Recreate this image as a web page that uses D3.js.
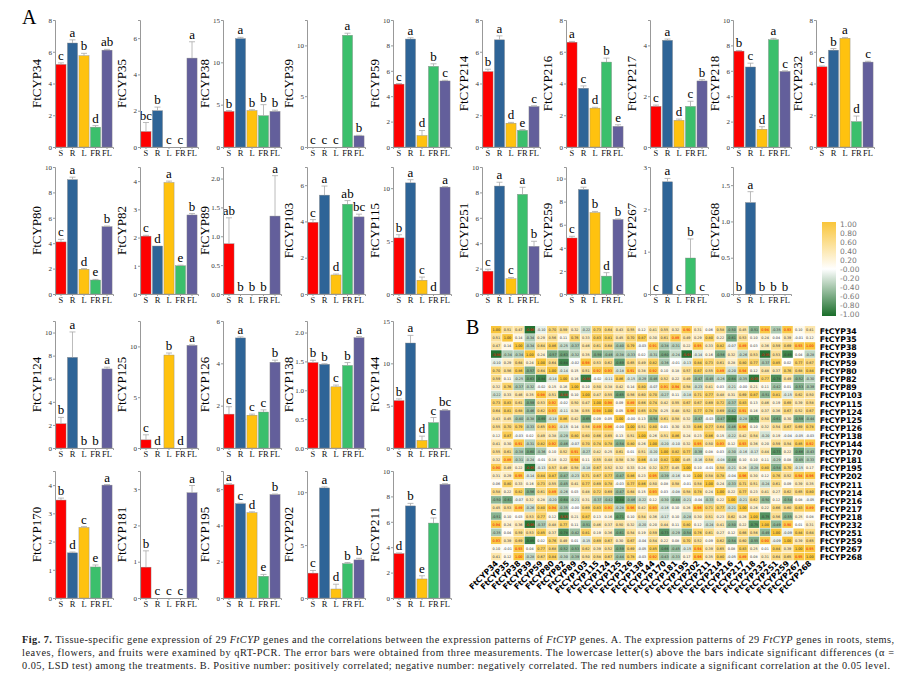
<!DOCTYPE html>
<html><head><meta charset="utf-8">
<script src="https://cdn.jsdelivr.net/npm/d3@7"></script>
<style>
body{margin:0;background:#fff;}
svg text{font-family:"Liberation Serif",serif;}
.cap{font-family:"Liberation Serif",serif;font-size:10.3px;fill:#222;}
</style></head><body>
<svg id="fig" width="904" height="696"></svg>
<script>
// tissues and bar colours
const tissues = ['S', 'R', 'L', 'FR', 'FL'];
const tissueColors = ['#fe0000', '#2e6497', '#ffc20f', '#3bbf6c', '#635f9b'];

// gene order of the heatmap
const genes = ['FtCYP34','FtCYP35','FtCYP38','FtCYP39','FtCYP59','FtCYP80','FtCYP82','FtCYP89','FtCYP103',
  'FtCYP115','FtCYP124','FtCYP125','FtCYP126','FtCYP138','FtCYP144','FtCYP170','FtCYP181','FtCYP195',
  'FtCYP202','FtCYP211','FtCYP214','FtCYP216','FtCYP217','FtCYP218','FtCYP232','FtCYP251','FtCYP259',
  'FtCYP267','FtCYP268'];

// mean expression per tissue (S, R, L, FR, FL)
const means = {
  FtCYP34: [5.2, 6.55, 5.75, 1.25, 6.1],   FtCYP35: [0.85, 2.0, 0, 0, 4.9],
  FtCYP38: [4.2, 12.8, 4.3, 3.7, 4.2],     FtCYP39: [0, 0, 0, 11.0, 1.1],
  FtCYP59: [4.95, 8.5, 0.9, 6.35, 5.2],    FtCYP214: [4.75, 6.75, 1.5, 1.05, 2.55],
  FtCYP216: [6.6, 3.7, 2.45, 5.35, 1.3],   FtCYP217: [1.6, 4.2, 1.05, 1.6, 2.6],
  FtCYP218: [7.55, 6.3, 1.4, 8.45, 5.95],  FtCYP232: [5.05, 6.1, 6.85, 1.6, 5.35],
  FtCYP80: [4.1, 9.0, 1.95, 1.1, 5.3],     FtCYP82: [2.05, 1.7, 3.95, 1.0, 2.8],
  FtCYP89: [0.87, 0, 0, 0, 1.35],          FtCYP103: [3.95, 5.45, 1.05, 4.95, 4.25],
  FtCYP115: [5.3, 10.5, 1.3, 0, 10.1],     FtCYP251: [1.8, 8.5, 1.2, 7.85, 3.75],
  FtCYP259: [4.85, 9.05, 7.05, 1.55, 6.45],FtCYP267: [0, 2.65, 0, 0.85, 0],
  FtCYP268: [0, 1.26, 0, 0, 0],            FtCYP124: [2.1, 7.85, 0, 0, 6.85],
  FtCYP125: [0.8, 0, 9.15, 0, 10.1],       FtCYP126: [1.6, 5.2, 1.55, 1.7, 4.05],
  FtCYP138: [1.48, 1.45, 1.06, 1.43, 1.91],FtCYP144: [5.6, 12.4, 0.9, 3.0, 4.45],
  FtCYP170: [3.47, 1.6, 2.5, 1.1, 4.0],    FtCYP181: [0.85, 0, 0, 0, 2.9],
  FtCYP195: [6.25, 5.2, 4.7, 1.2, 5.7],    FtCYP202: [2.35, 10.4, 0.85, 3.25, 3.6],
  FtCYP211: [3.5, 7.25, 1.5, 5.9, 8.95]
};
const errors = {
  FtCYP34: [0.1, 0.2, 0.15, 0.1, 0.05],  FtCYP35: [0.5, 0.2, 0, 0, 0.9],
  FtCYP38: [0.1, 0.15, 0.1, 1.3, 0.15],  FtCYP39: [0, 0, 0, 0.2, 0.05],
  FtCYP59: [0.05, 0.1, 0.4, 0.2, 0.05],  FtCYP214: [0.15, 0.25, 0.05, 0.05, 0.05],
  FtCYP216: [0.05, 0.15, 0.05, 0.25, 0.1], FtCYP217: [0.05, 0.05, 0.05, 0.2, 0.05],
  FtCYP218: [0.05, 0.3, 0.2, 0.1, 0.05], FtCYP232: [0.05, 0.1, 0.05, 0.35, 0.05],
  FtCYP80: [0.2, 0.2, 0.05, 0.05, 0.05], FtCYP82: [0.03, 0, 0.05, 0.02, 0.05],
  FtCYP89: [0.45, 0, 0, 0, 0.7],         FtCYP103: [0.15, 0.5, 0.05, 0.2, 0.15],
  FtCYP115: [0.3, 0.3, 0.3, 0, 0.05],    FtCYP251: [0.15, 0.3, 0.1, 0.55, 0.4],
  FtCYP259: [0.15, 0.2, 0.1, 0.3, 0.05], FtCYP267: [0, 0.08, 0, 0.45, 0],
  FtCYP268: [0, 0.15, 0, 0, 0],          FtCYP124: [0.55, 2.2, 0, 0, 0.15],
  FtCYP125: [0.5, 0, 0.2, 0, 0.05],      FtCYP126: [0.35, 0.05, 0.05, 0.1, 0.1],
  FtCYP138: [0.04, 0.01, 0.03, 0.05, 0.02], FtCYP144: [0.2, 0.9, 0.5, 0.6, 0.1],
  FtCYP170: [0.07, 0.03, 0.03, 0.07, 0.02], FtCYP181: [0.45, 0, 0, 0, 0.2],
  FtCYP195: [0.05, 0.03, 0.05, 0.1, 0.03], FtCYP202: [0.25, 0.1, 0.45, 0.1, 0.15],
  FtCYP211: [0.05, 0.2, 0.25, 0.4, 0.05]
};
const letters = {
  FtCYP34: ['c','a','b','d','ab'], FtCYP35: ['bc','b','c','c','a'], FtCYP38: ['b','a','b','b','b'],
  FtCYP39: ['c','c','c','a','b'], FtCYP59: ['c','a','d','b','c'], FtCYP214: ['b','a','d','e','c'],
  FtCYP216: ['a','c','d','b','e'], FtCYP217: ['c','a','d','c','b'], FtCYP218: ['b','c','d','a','c'],
  FtCYP232: ['c','b','a','d','c'], FtCYP80: ['c','a','d','e','b'], FtCYP82: ['c','d','a','e','b'],
  FtCYP89: ['ab','b','b','b','a'], FtCYP103: ['c','a','d','ab','bc'], FtCYP115: ['b','a','c','d','a'],
  FtCYP251: ['c','a','c','a','b'], FtCYP259: ['c','a','b','d','b'], FtCYP267: ['c','a','c','b','c'],
  FtCYP268: ['b','a','b','b','b'], FtCYP124: ['b','a','b','b','a'], FtCYP125: ['c','d','b','d','a'],
  FtCYP126: ['c','a','c','c','b'], FtCYP138: ['b','b','c','b','a'], FtCYP144: ['b','a','d','c','bc'],
  FtCYP170: ['b','d','c','e','a'], FtCYP181: ['b','c','c','c','a'], FtCYP195: ['a','c','d','e','b'],
  FtCYP202: ['c','a','d','b','b'], FtCYP211: ['d','b','e','c','a']
};
// y-axis top and tick step per panel
const yMax = {
  FtCYP34: [8, 2], FtCYP35: [7, 2], FtCYP38: [15, 5], FtCYP39: [12.5, 5], FtCYP59: [10, 2],
  FtCYP214: [8, 2], FtCYP216: [8, 2], FtCYP217: [5, 2], FtCYP218: [10, 2], FtCYP232: [8, 2],
  FtCYP80: [10, 2], FtCYP82: [4.5, 1], FtCYP89: [2.2, 0.5], FtCYP103: [7, 2], FtCYP115: [12, 5],
  FtCYP251: [10, 2], FtCYP259: [11, 2], FtCYP267: [3, 1], FtCYP268: [1.75, 0.5],
  FtCYP124: [11, 2], FtCYP125: [12.5, 5], FtCYP126: [6, 2], FtCYP138: [2.2, 0.5], FtCYP144: [15, 5],
  FtCYP170: [4.5, 1], FtCYP181: [3.5, 1], FtCYP195: [7, 2], FtCYP202: [12, 5], FtCYP211: [10, 2]
};
// panel grid
const panelRows = [
  ['FtCYP34','FtCYP35','FtCYP38','FtCYP39','FtCYP59','FtCYP214','FtCYP216','FtCYP217','FtCYP218','FtCYP232'],
  ['FtCYP80','FtCYP82','FtCYP89','FtCYP103','FtCYP115','FtCYP251','FtCYP259','FtCYP267','FtCYP268'],
  ['FtCYP124','FtCYP125','FtCYP126','FtCYP138','FtCYP144'],
  ['FtCYP170','FtCYP181','FtCYP195','FtCYP202','FtCYP211']
];
const colorTicks = [1, 0.8, 0.6, 0.4, 0.2, -0.0, -0.2, -0.4, -0.6, -0.8, -1];

const svg = d3.select('#fig');
const rowTops = [20, 167, 321, 471];
const plotH = 127, plotW = 58;
const colX = [55, 140, 223, 307, 393, 482, 566, 650, 733, 816];

svg.append('text').attr('x', 22).attr('y', 24).attr('font-size', 20).text('A');
svg.append('text').attr('x', 466).attr('y', 334).attr('font-size', 20).text('B');

function drawPanel(gene, x0, y0) {
  const g = svg.append('g').attr('transform', `translate(${x0},${y0})`);
  const [top, step] = yMax[gene];
  const x = d3.scaleBand().domain(tissues).range([0, plotW]).paddingInner(0.12).paddingOuter(0.08);
  const y = d3.scaleLinear().domain([0, top]).range([plotH, 0]);
  const vals = means[gene], errs = errors[gene], lets = letters[gene];

  tissues.forEach((t, i) => {
    const bx = x(t), bw = x.bandwidth();
    if (vals[i] > 0) {
      g.append('rect').attr('x', bx).attr('y', y(vals[i])).attr('width', bw)
        .attr('height', plotH - y(vals[i])).attr('fill', tissueColors[i])
        .attr('stroke', '#888').attr('stroke-width', 0.4);
    }
    const ey = y(vals[i] + errs[i]);
    if (errs[i] > 0) {
      g.append('line').attr('x1', bx + bw / 2).attr('x2', bx + bw / 2)
        .attr('y1', y(vals[i])).attr('y2', ey).attr('stroke', '#aaa').attr('stroke-width', 0.8);
      g.append('line').attr('x1', bx + bw / 2 - 3).attr('x2', bx + bw / 2 + 3)
        .attr('y1', ey).attr('y2', ey).attr('stroke', '#aaa').attr('stroke-width', 0.8);
    }
    g.append('text').attr('x', bx + bw / 2).attr('y', ey - 3).attr('text-anchor', 'middle')
      .attr('font-size', 13).text(lets[i]);
  });

  const ticks = d3.range(0, top + 1e-9, step);
  const yAxis = d3.axisLeft(y).tickValues(ticks).tickSize(2).tickPadding(1)
    .tickFormat(step < 1 ? d3.format('.1f') : d3.format('d'));
  const ya = g.append('g').call(yAxis);
  const xa = g.append('g').attr('transform', `translate(0,${plotH})`)
    .call(d3.axisBottom(x).tickSize(2).tickPadding(1));
  [ya, xa].forEach(a => {
    a.select('.domain').attr('stroke', '#999');
    a.selectAll('.tick line').attr('stroke', '#999');
  });
  ya.selectAll('text').attr('font-size', 7).attr('fill', '#333');
  xa.selectAll('text').attr('font-size', 8.5).attr('fill', '#111');
  g.append('text').attr('transform', `translate(-14,${plotH / 2}) rotate(-90)`)
    .attr('text-anchor', 'middle').attr('font-size', 13).text(gene);
}

panelRows.forEach((row, r) => row.forEach((gene, c) => drawPanel(gene, colX[c], rowTops[r])));

// ---- B: correlation heatmap (Pearson r of the mean profiles above) ----
const hx = 491, hy = 326, cw = 11.2, ch = 8.1;
const n = genes.length;
const color = d3.scaleLinear().domain([-1, 0, 1]).range(['#1a6e2a', '#ffffff', '#f9c53a']);
function pearson(a, b) {
  const ma = d3.mean(a), mb = d3.mean(b);
  let s = 0, sa = 0, sb = 0;
  a.forEach((v, k) => { s += (v - ma) * (b[k] - mb); sa += (v - ma) ** 2; sb += (b[k] - mb) ** 2; });
  return s / Math.sqrt(sa * sb);
}
const hm = svg.append('g');
genes.forEach((gi, i) => genes.forEach((gj, j) => {
  const r = i === j ? 1 : pearson(means[gi], means[gj]);
  hm.append('rect').attr('x', hx + j * cw).attr('y', hy + i * ch).attr('width', cw - 0.6)
    .attr('height', ch - 0.6).attr('fill', color(r));
  hm.append('text').attr('x', hx + j * cw + cw / 2 - 0.3).attr('y', hy + i * ch + ch / 2 + 1.2)
    .attr('text-anchor', 'middle').style('font-family', 'DejaVu Sans').attr('font-size', 3.4)
    .attr('fill', Math.abs(r) > 0.878 && i !== j ? '#e00' : '#333').text(r.toFixed(2));
}));
genes.forEach((gname, i) => {
  hm.append('text').attr('x', hx + n * cw + 4).attr('y', hy + i * ch + ch - 0.5)
    .style('font-family', 'DejaVu Sans').attr('font-weight', 'bold').attr('font-size', 7.8).text(gname);
  hm.append('text')
    .attr('transform', `translate(${hx + i * cw + cw / 2 + 2},${hy + n * ch + 3}) rotate(-45)`)
    .attr('text-anchor', 'end').style('font-family', 'DejaVu Sans').attr('font-weight', 'bold')
    .attr('font-size', 7.8).text(gname);
});

// colour bar
const defs = svg.append('defs');
const grad = defs.append('linearGradient').attr('id', 'cb').attr('x1', 0).attr('x2', 0).attr('y1', 0).attr('y2', 1);
grad.append('stop').attr('offset', '0%').attr('stop-color', color(1));
grad.append('stop').attr('offset', '50%').attr('stop-color', color(0));
grad.append('stop').attr('offset', '100%').attr('stop-color', color(-1));
const cbY = d3.scaleLinear().domain([1, -1]).range([224, 314]);
svg.append('rect').attr('x', 822).attr('y', 222).attr('width', 14).attr('height', 94).attr('fill', 'url(#cb)');
colorTicks.forEach(t => {
  svg.append('text').attr('x', 840).attr('y', cbY(t) + 3).style('font-family', 'DejaVu Sans')
    .attr('font-size', 7.5).attr('fill', '#777')
    .text(t === 0 ? '-0.00' : t.toFixed(2));
});

// caption
const cap = svg.append('g');
const lines = [
  [['b', 'Fig. 7.'], ['n', ' Tissue-specific gene expression of 29 '], ['i', 'FtCYP'], ['n', ' genes and the correlations between the expression patterns of '], ['i', 'FtCYP'], ['n', ' genes. A. The expression patterns of 29 '], ['i', 'FtCYP'], ['n', ' genes in roots, stems,']],
  [['n', 'leaves, flowers, and fruits were examined by qRT-PCR. The error bars were obtained from three measurements. The lowercase letter(s) above the bars indicate significant differences (α ='] ],
  [['n', '0.05, LSD test) among the treatments. B. Positive number: positively correlated; negative number: negatively correlated. The red numbers indicate a significant correlation at the 0.05 level.']]
];
lines.forEach((ln, k) => {
  const t = cap.append('text').attr('class', 'cap').attr('x', 22).attr('y', 643 + k * 13)
    .attr('textLength', k === 2 ? 868 : 872).attr('lengthAdjust', 'spacing');
  ln.forEach(([s, str]) => {
    const sp = t.append('tspan').text(str);
    if (s === 'b') sp.attr('font-weight', 'bold');
    if (s === 'i') sp.attr('font-style', 'italic');
  });
});
</script></body></html>
